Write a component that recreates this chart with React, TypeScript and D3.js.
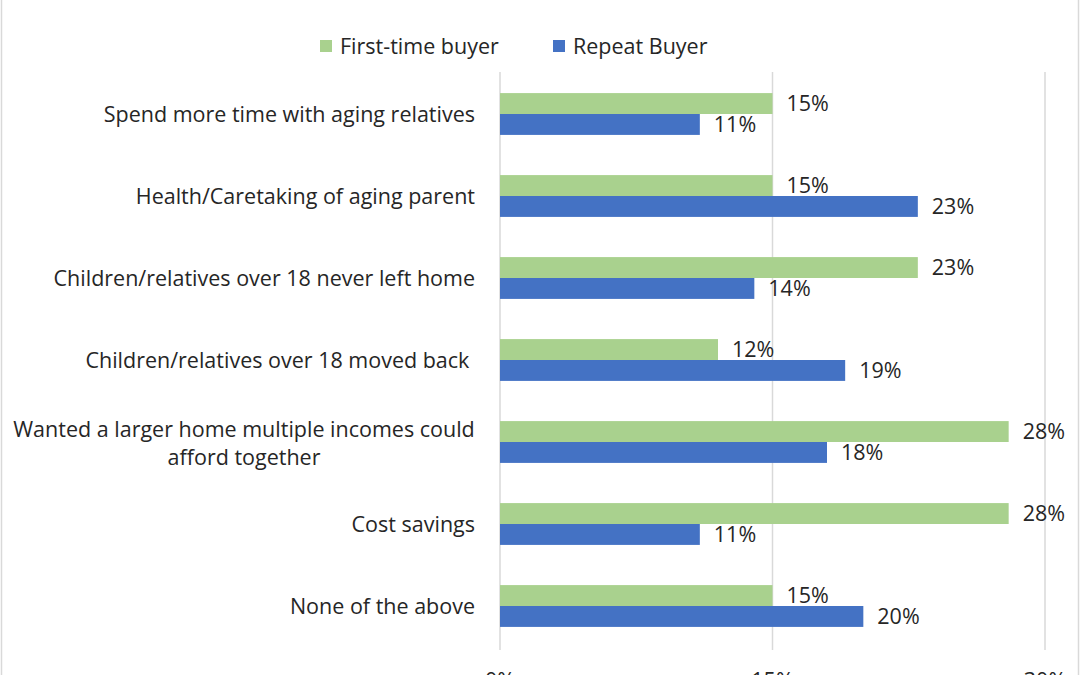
import React from "react";
import * as d3 from "d3";

const categories: string[][] = [
  ["Spend more time with aging relatives"],
  ["Health/Caretaking of aging parent"],
  ["Children/relatives over 18 never left home"],
  ["Children/relatives over 18 moved back "],
  ["Wanted a larger home multiple incomes could", "afford together"],
  ["Cost savings"],
  ["None of the above"],
];
const seriesNames = ["First-time buyer", "Repeat Buyer"];
const firstTime = [15, 15, 23, 12, 28, 28, 15];
const repeat = [11, 23, 14, 19, 18, 11, 20];
const ticks = [0, 15, 30];
const colors = ["#a9d18e", "#4472c4"];

const W = 1080;
const H = 675;
const FONT = "'Open Sans', 'Noto Sans', sans-serif";
const TXT = "#262626";
const FS = 21.5;

export default function App() {
  const x = d3.scaleLinear().domain([0, 30]).range([500, 1045]);
  const idx = categories.map((_, i) => String(i));
  const y = d3
    .scaleBand<string>()
    .domain(idx)
    .range([73, 647])
    .paddingInner(0.49)
    .paddingOuter(0.245);
  const inner = d3.scaleBand<string>().domain(seriesNames).range([0, y.bandwidth()]);
  const values = [firstTime, repeat];

  return (
    <svg
      width={W}
      height={H}
      style={{ position: "fixed", left: 0, top: 0, background: "#fff" }}
      fontFamily={FONT}
    >
      <rect x={0} y={0} width={W} height={H} fill="#fff" />
      <line x1={1.5} x2={1.5} y1={0} y2={H} stroke="#d9d9d9" strokeWidth={1.5} />
      <line x1={W - 1.5} x2={W - 1.5} y1={0} y2={H} stroke="#d9d9d9" strokeWidth={1.5} />
      {ticks.map((t) => (
        <g key={t}>
          <line x1={x(t)} x2={x(t)} y1={72} y2={650} stroke="#d9d9d9" strokeWidth={1.5} />
          <text x={x(t)} y={688} textAnchor="middle" fontSize={FS} fill={TXT}>
            {t}%
          </text>
        </g>
      ))}
      {values.map((vals, s) =>
        vals.map((v, i) => {
          const y0 = (y(String(i)) as number) + (inner(seriesNames[s]) as number);
          const h = inner.bandwidth();
          return (
            <g key={s + "-" + i}>
              <rect x={x(0)} y={y0} width={x(v) - x(0)} height={h} fill={colors[s]} />
              <text
                x={x(v) + 14}
                y={y0 + h / 2}
                dy="0.35em"
                fontSize={FS}
                fill={TXT}
              >
                {v}%
              </text>
            </g>
          );
        })
      )}
      {categories.map((lines, i) => {
        const cy = (y(String(i)) as number) + y.bandwidth() / 2;
        const lh = 28;
        if (lines.length === 1) {
          return (
            <text
              key={i}
              x={475}
              y={cy}
              dy="0.35em"
              textAnchor="end"
              fontSize={FS}
              fill={TXT}
              style={{ whiteSpace: "pre" }}
            >
              {lines[0]}
            </text>
          );
        }
        return (
          <text key={i} x={244} textAnchor="middle" fontSize={FS} fill={TXT}>
            {lines.map((l, k) => (
              <tspan key={k} x={244} y={cy + 1 + (k - (lines.length - 1) / 2) * lh} dy="0.35em">
                {l}
              </tspan>
            ))}
          </text>
        );
      })}
      {seriesNames.map((n, s) => {
        const lx = [320, 553][s];
        return (
          <g key={n}>
            <rect x={lx} y={40} width={12} height={12} fill={colors[s]} />
            <text x={lx + 20} y={46} dy="0.35em" fontSize={FS} fill={TXT}>
              {n}
            </text>
          </g>
        );
      })}
    </svg>
  );
}
